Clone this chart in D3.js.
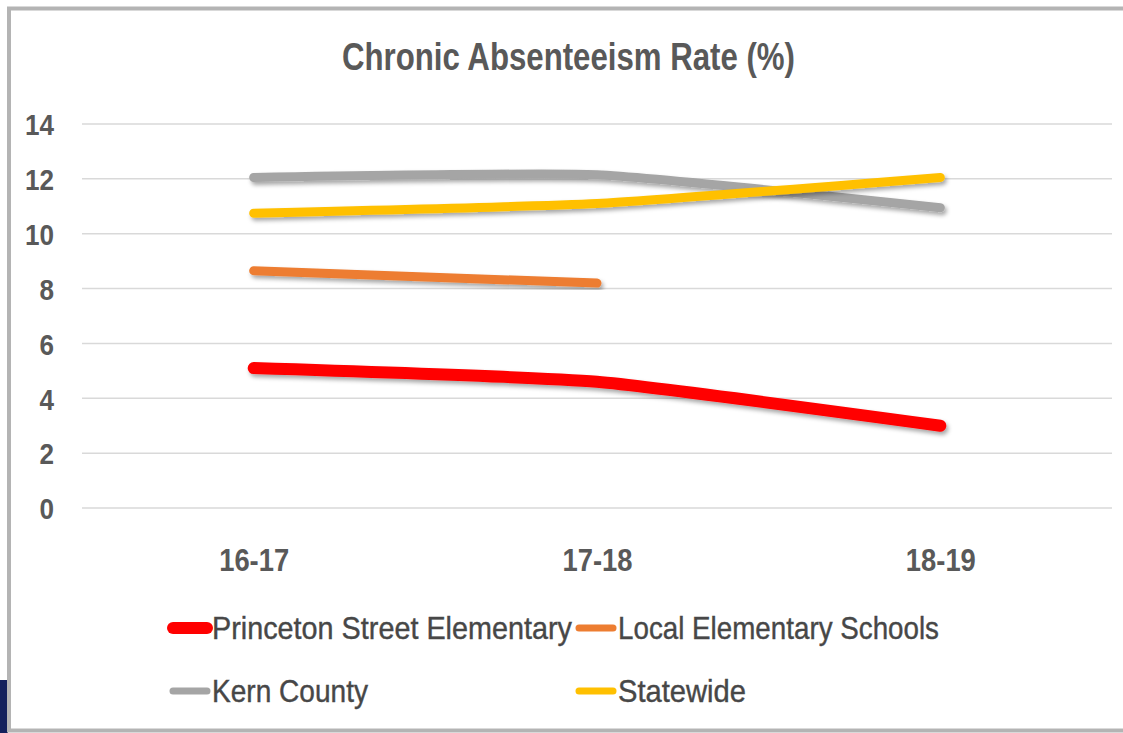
<!DOCTYPE html>
<html>
<head>
<meta charset="utf-8">
<script src="https://cdn.jsdelivr.net/npm/d3@7"></script>
<style>
  html, body { margin: 0; padding: 0; background: #fff; }
  svg { display: block; }
  text { font-family: "Liberation Sans Narrow", "Liberation Sans", "DejaVu Sans Condensed", sans-serif; }
</style>
</head>
<body>
<div id="chart"></div>
<script>
// chart values
const categories = ['16-17', '17-18', '18-19'];
const yTicks     = [0, 2, 4, 6, 8, 10, 12, 14];
const princeton  = [5.1, 4.6, 3.0];
const localSch   = [8.65, 8.2, null];
const kern       = [12.05, 12.15, 10.95];
const statewide  = [10.75, 11.1, 12.05];

const seriesNames = ['Princeton Street Elementary', 'Local Elementary Schools', 'Kern County', 'Statewide'];
const seriesVals  = [princeton, localSch, kern, statewide];
const seriesCols  = ['#ff0000', '#ed7d31', '#a5a5a5', '#ffc000'];
const seriesW     = [12, 9, 9, 9];

const W = 1123, H = 733;
const margin = { top: 124, right: 11, bottom: 225, left: 82 };

const svg = d3.select('#chart').append('svg').attr('width', W).attr('height', H);

const defs = svg.append('defs');
const f = defs.append('filter').attr('id', 'shadow')
  .attr('x', '-10%').attr('y', '-50%').attr('width', '120%').attr('height', '200%');
f.append('feDropShadow').attr('dx', 2).attr('dy', 3).attr('stdDeviation', 2)
  .attr('flood-color', '#000').attr('flood-opacity', 0.35);

// frame + slide corner
svg.append('rect').attr('x', 0).attr('y', 680).attr('width', 8).attr('height', 53).attr('fill', '#13205c');
svg.append('rect').attr('x', 9).attr('y', 8.5).attr('width', W + 10).attr('height', 722)
  .attr('fill', 'none').attr('stroke', '#b4b4b4').attr('stroke-width', 4);

const x = d3.scalePoint().domain(categories)
  .range([margin.left, W - margin.right]).padding(0.5);
const y = d3.scaleLinear().domain([0, 14]).range([H - margin.bottom, margin.top]);

// gridlines
svg.append('g').selectAll('line').data(yTicks).join('line')
  .attr('x1', margin.left).attr('x2', W - margin.right)
  .attr('y1', d => y(d)).attr('y2', d => y(d))
  .attr('stroke', '#d9d9d9').attr('stroke-width', 1.5);

// axes (labels only)
const yAxis = svg.append('g').attr('transform', 'translate(54,0)')
  .call(d3.axisLeft(y).tickValues(yTicks).tickSize(0).tickPadding(0));
yAxis.select('.domain').remove();
yAxis.selectAll('text').attr('font-size', 30).attr('font-weight', 'bold').attr('fill', '#595959')
  .attr('dy', '0.36em')
  .attr('textLength', d => String(d).length * 14.5).attr('lengthAdjust', 'spacingAndGlyphs');

const xAxis = svg.append('g').attr('transform', `translate(0,${H - margin.bottom})`)
  .call(d3.axisBottom(x).tickSize(0).tickPadding(0));
xAxis.select('.domain').remove();
xAxis.selectAll('text').attr('y', 63).attr('dy', 0).attr('font-size', 31).attr('font-weight', 'bold')
  .attr('fill', '#595959')
  .attr('textLength', 70).attr('lengthAdjust', 'spacingAndGlyphs');
svg.selectAll('.tick text').attr('font-family', null);

// title
svg.append('text').attr('x', 568.5).attr('y', 70).attr('text-anchor', 'middle')
  .attr('font-size', 38).attr('font-weight', 'bold').attr('fill', '#595959')
  .attr('textLength', 453).attr('lengthAdjust', 'spacingAndGlyphs')
  .text('Chronic Absenteeism Rate (%)');

// lines
const line = d3.line()
  .defined(d => d.v != null)
  .x(d => x(d.c)).y(d => y(d.v))
  .curve(d3.curveCardinal.tension(0.55));

const drawOrder = [1, 0, 2, 3];
svg.append('g').selectAll('path').data(drawOrder).join('path')
  .attr('d', i => line(categories.map((c, k) => ({ c, v: seriesVals[i][k] }))))
  .attr('fill', 'none')
  .attr('stroke', i => seriesCols[i])
  .attr('stroke-width', i => seriesW[i])
  .attr('stroke-linecap', 'round')
  .attr('stroke-linejoin', 'round')
  .attr('filter', 'url(#shadow)');

// legend
const legendPos = [
  { x: 169, y: 628, tw: 360 },
  { x: 575, y: 628, tw: 321 },
  { x: 169, y: 691, tw: 156 },
  { x: 575, y: 691, tw: 128 }
];
const lg = svg.append('g').selectAll('g').data(seriesNames).join('g')
  .attr('transform', (d, i) => `translate(${legendPos[i].x},${legendPos[i].y})`);
lg.append('line').attr('x1', 4).attr('x2', 38).attr('y1', 0).attr('y2', 0)
  .attr('stroke', (d, i) => seriesCols[i])
  .attr('stroke-width', (d, i) => i === 0 ? 12 : 7)
  .attr('stroke-linecap', 'round');
lg.append('text').attr('x', 43).attr('y', 11)
  .attr('font-size', 32).attr('fill', '#474747').attr('stroke', '#474747').attr('stroke-width', 0.4)
  .attr('textLength', (d, i) => legendPos[i].tw).attr('lengthAdjust', 'spacingAndGlyphs')
  .text(d => d);
</script>
</body>
</html>
